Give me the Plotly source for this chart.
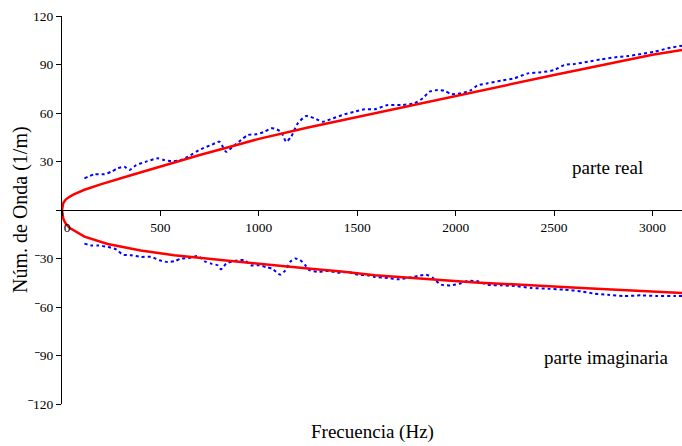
import plotly.graph_objects as go

# Theoretical wavenumber (smooth red curves)
freq_theory_re = [0, 1, 3, 6, 10, 20, 40, 60, 114, 200, 350, 500, 700, 850, 1000,
                  1250, 1500, 2000, 2500, 3000, 3150]
k_theory_re = [0, 1.8, 3.0, 4.0, 5.0, 6.6, 8.3, 9.6, 12.5, 16, 21.5, 27, 34, 39, 44,
               51, 57.5, 70.5, 83.5, 96, 99]

freq_theory_im = [0, 1, 3, 6, 10, 20, 40, 63, 114, 232, 400, 570, 740, 910, 1080,
                  1250, 1420, 1590, 2100, 2640, 3150]
k_theory_im = [0, -2.0, -3.6, -5.0, -6.4, -8.6, -11.2, -13, -16.5, -21, -25, -28,
               -30.2, -32.2, -34.2, -36.2, -38, -40.3, -44.8, -48.2, -51.3]

# Measured wavenumber (blue dotted curves)
freq_meas_re = [114, 165, 216, 250, 283, 317, 343, 377, 427, 487, 520, 554, 605,
                639, 707, 758, 800, 834, 867, 910, 944, 986, 1028, 1062, 1080,
                1113, 1139, 1164, 1198, 1240, 1283, 1325, 1376, 1436, 1487, 1537,
                1588, 1655, 1723, 1791, 1833, 1867, 1909, 1943, 1977, 2028, 2079,
                2110, 2163, 2231, 2299, 2367, 2434, 2502, 2553, 2604, 2671, 2739,
                2807, 2875, 2942, 3010, 3078, 3137, 3150]
k_meas_re = [19.6, 22.1, 22.1, 23.7, 25.8, 26.8, 24.7, 27.8, 29.9, 32, 30.9, 30.3,
             30.9, 33, 37.7, 40.2, 42.2, 36, 39.1, 43.3, 46.4, 46.8, 48.4, 50.5,
             50.3, 48.4, 42.2, 45.3, 53.6, 58.1, 56.7, 54.6, 56.7, 59.2, 60.8,
             62.3, 62.3, 64.9, 64.9, 66, 69.1, 73.2, 74.2, 73.8, 71.7, 72.2, 74.2,
             77, 78.4, 80, 81.5, 84.5, 85.2, 86.6, 89.7, 90.3, 91.7, 93.2, 94.4,
             95.2, 96.5, 97.9, 100, 101.4, 101.6]

freq_meas_im = [114, 148, 182, 232, 275, 308, 351, 402, 453, 495, 537, 571, 605,
                647, 690, 724, 758, 791, 808, 834, 867, 927, 961, 1003, 1037, 1071,
                1108, 1135, 1160, 1185, 1210, 1235, 1257, 1300, 1355, 1401, 1452,
                1503, 1553, 1587, 1655, 1706, 1757, 1808, 1850, 1884, 1926, 1977,
                2019, 2062, 2113, 2163, 2231, 2299, 2384, 2468, 2553, 2638, 2706,
                2773, 2858, 2942, 3027, 3112, 3150]
k_meas_im = [-20.8, -21.9, -21.9, -22.9, -24.3, -27.6, -28, -29, -29, -31.1, -32.2,
             -31.7, -30.1, -29.7, -28.4, -31.7, -33.2, -34.2, -36.7, -33.2, -31.7,
             -31, -34.2, -34.2, -35.3, -36.5, -40, -37.3, -32, -30, -31, -34,
             -37.2, -38.2, -37.7, -38.8, -38.3, -40, -40.4, -41.4, -42, -42.9,
             -42, -40.8, -40, -42, -46.2, -46.6, -45.6, -43.9, -44.1, -46.2,
             -46.6, -47, -48.2, -48.7, -49.3, -50.3, -51.8, -52.4, -53.2, -52.8,
             -53.2, -53.2, -53.2]

x_ticks = [0, 500, 1000, 1500, 2000, 2500, 3000]
x_ticktext = ["\u00a0\u00a0\u00a00", "500", "1000", "1500", "2000", "2500", "3000"]
y_ticks = [-120, -90, -60, -30, 0, 30, 60, 90, 120]
NEG = "<sup><b>\u2013</b></sup>"
y_ticktext = [NEG + "120", NEG + "90", NEG + "60", NEG + "30", "", "30", "60", "90", "120"]

FONT = "Liberation Serif, Times New Roman, serif"
X_RANGE = [0, 3150]
Y_RANGE = [-120, 120]

fig = go.Figure()

for fx, ky in [(freq_meas_re, k_meas_re), (freq_meas_im, k_meas_im)]:
    fig.add_trace(go.Scatter(
        x=fx, y=ky, mode="lines",
        line=dict(color="#0000ff", width=2, dash="3px,3px", shape="spline", smoothing=0.6),
        hoverinfo="skip", showlegend=False))

for fx, ky in [(freq_theory_re, k_theory_re), (freq_theory_im, k_theory_im)]:
    fig.add_trace(go.Scatter(
        x=fx, y=ky, mode="lines",
        line=dict(color="#ff0000", width=2.5),
        hoverinfo="skip", showlegend=False))

axis_common = dict(showgrid=False, zeroline=False, linecolor="black",
                   tickcolor="black", tickwidth=1.3, ticklen=5,
                   tickfont=dict(family=FONT, size=13.5, color="black"))

fig.update_layout(
    width=682, height=446,
    margin=dict(l=62, r=0, t=16, b=42),
    paper_bgcolor="white", plot_bgcolor="white",
    font=dict(family=FONT, color="black"),
    xaxis=dict(range=X_RANGE, anchor="free", position=0.5, showline=True,
               linewidth=1.3, ticks="outside", tickmode="array",
               tickvals=x_ticks, ticktext=x_ticktext, **axis_common),
    xaxis2=dict(range=X_RANGE, overlaying="x", anchor="free", position=0.5,
                showline=False, ticks="inside", tickmode="array",
                tickvals=x_ticks, showticklabels=False, **axis_common),
    yaxis=dict(range=Y_RANGE, anchor="x", showline=True, linewidth=1.3,
               ticks="outside", tickmode="array", tickvals=y_ticks,
               ticktext=y_ticktext, **axis_common),
    yaxis2=dict(range=Y_RANGE, overlaying="y", anchor="x", side="left",
                showline=False, ticks="inside", tickmode="array",
                tickvals=y_ticks, showticklabels=False, **axis_common),
    annotations=[
        dict(text="Frecuencia (Hz)", xref="paper", yref="paper", x=0.5, y=0,
             yshift=-28, xanchor="center", yanchor="middle", showarrow=False,
             font=dict(family=FONT, size=19, color="black")),
        dict(text="Núm. de Onda (1/m)", xref="paper", yref="paper", x=0, y=0.5,
             xshift=-42, xanchor="center", yanchor="middle", textangle=-90,
             showarrow=False, font=dict(family=FONT, size=20, color="black")),
        dict(text="parte real", xref="x", yref="y", x=2770, y=26.5,
             xanchor="center", yanchor="middle", showarrow=False,
             font=dict(family=FONT, size=19, color="black")),
        dict(text="parte imaginaria", xref="x", yref="y", x=2765, y=-91,
             xanchor="center", yanchor="middle", showarrow=False,
             font=dict(family=FONT, size=19, color="black")),
    ],
)

fig.write_html("out.html")
